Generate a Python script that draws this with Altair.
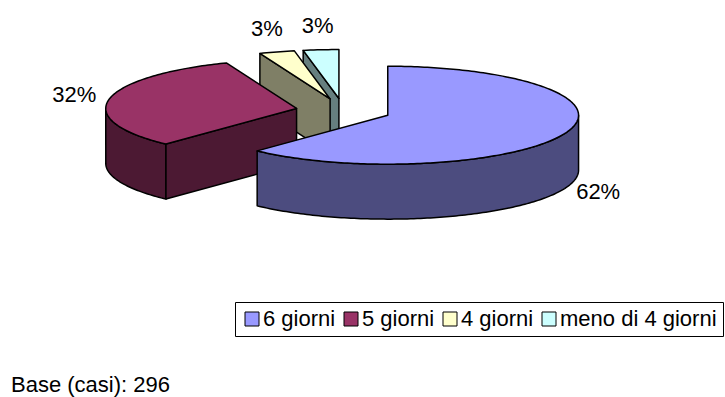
import altair as alt
import numpy as np
import pandas as pd

# Survey answers (share of cases, %)
categorie = ["6 giorni", "5 giorni", "4 giorni", "meno di 4 giorni"]
percentuali = [62, 32, 3, 3]
etichette = ["62%", "32%", "3%", "3%"]
base_casi = 296

# top-face colours; the sides use the same hues at half brightness
colori_sopra = ["#9999FF", "#993366", "#FFFFCC", "#CCFFFF"]

FONT = "Liberation Sans"
FONT_SIZE = 22

# 3D pie geometry, in plot units (horizontal radius of the disc = 1)
INCLINAZIONE = 0.2565   # vertical squash of the elliptical top face
SPESSORE = 0.288        # thickness of the disc
ESPLOSIONE = 0.25       # how far every slice is pulled away from the centre
RAGGIO_ETICHETTA_X = 1.436
RAGGIO_ETICHETTA_Y = 0.448


def scurisci(col, f=0.5):
    r, g, b = (int(col[i:i + 2], 16) for i in (1, 3, 5))
    return "#{:02x}{:02x}{:02x}".format(int(r * f), int(g * f), int(b * f))


def punto(ox, oz, theta, r=1.0, giu=0.0):
    """Screen position (x, y-up) of a point of the disc at angle theta
    (degrees clockwise from 12 o'clock) for a slice whose centre is shifted
    by (ox, oz) in the plane of the pie."""
    t = np.radians(theta)
    return ox + r * np.sin(t), INCLINAZIONE * (oz + r * np.cos(t)) - giu


def arco(ox, oz, a0, a1, giu=0.0):
    n = max(2, int(abs(a1 - a0)) + 1)
    return [punto(ox, oz, t, giu=giu) for t in np.linspace(a0, a1, n)]


angoli = np.concatenate([[0], np.cumsum(percentuali)]) / sum(percentuali) * 360

fette = []
for i, cat in enumerate(categorie):
    a0, a1 = angoli[i], angoli[i + 1]
    m = np.radians((a0 + a1) / 2)
    fette.append(dict(cat=cat, a0=a0, a1=a1, mid=m,
                      ox=ESPLOSIONE * np.sin(m), oz=ESPLOSIONE * np.cos(m),
                      col=colori_sopra[i], lab=etichette[i]))

# painter's order: slices further back are drawn first
ordine = sorted(fette, key=lambda f: -f["oz"])

facce = []  # (categoria, tipo, colore, punti)
for f in ordine:
    ox, oz, a0, a1 = f["ox"], f["oz"], f["a0"], f["a1"]
    lato = scurisci(f["col"])
    centro = punto(ox, oz, 0, r=0.0)
    centro_giu = punto(ox, oz, 0, r=0.0, giu=SPESSORE)
    # curved outer wall (only its front half is visible)
    b0, b1 = max(a0, 90), min(a1, 270)
    if b1 > b0:
        pts = arco(ox, oz, b0, b1) + arco(ox, oz, b1, b0, giu=SPESSORE)
        facce.append((f["cat"], "lato", lato, pts))
    # flat cut faces, when they face the viewer
    for ang, visibile in ((a0, np.sin(np.radians(a0)) < -1e-9),
                          (a1, np.sin(np.radians(a1)) > 1e-9)):
        if visibile:
            pts = [centro, punto(ox, oz, ang), punto(ox, oz, ang, giu=SPESSORE), centro_giu]
            facce.append((f["cat"], "lato", lato, pts))
    # top face
    facce.append((f["cat"], "sopra", f["col"], [centro] + arco(ox, oz, a0, a1)))

righe = []
for k, (cat, tipo, col, pts) in enumerate(facce):
    for j, (x, y) in enumerate(pts):
        righe.append(dict(faccia=k, i=j, x=float(x), y=float(y), categoria=cat))
df = pd.DataFrame(righe)

# percentage labels around the pie
lab_rows = []
for f in fette:
    c = np.cos(f["mid"])
    y = RAGGIO_ETICHETTA_Y * c - (0.9 * SPESSORE if c < 0 else 0.0)
    lab_rows.append(dict(x=RAGGIO_ETICHETTA_X * np.sin(f["mid"]), y=y, testo=f["lab"]))
df_lab = pd.DataFrame(lab_rows)

X = alt.X("x:Q", scale=alt.Scale(domain=[-1.8, 2.0], nice=False, zero=False), axis=None)
Y = alt.Y("y:Q", scale=alt.Scale(domain=[-1.5, 0.58], nice=False, zero=False), axis=None)

scala_colori = alt.Scale(domain=categorie, range=colori_sopra)
legenda = alt.Legend(
    title=None, orient="none", legendX=235, legendY=302, direction="horizontal",
    symbolType="square", symbolSize=196, symbolStrokeColor="black",
    symbolStrokeWidth=1, symbolOpacity=1,
    labelFont=FONT, labelFontSize=FONT_SIZE, labelColor="black", labelOffset=0,
    labelLimit=400, columnPadding=4, padding=6, strokeColor="black",
    cornerRadius=0,
)

livelli = []
for k, (cat, tipo, col, pts) in enumerate(facce):
    base = alt.Chart(df).transform_filter(alt.datum.faccia == k).mark_line(
        interpolate="linear-closed", stroke="black", strokeWidth=1.5, strokeJoin="round"
    )
    if tipo == "sopra":
        livelli.append(base.encode(
            x=X, y=Y, order="i:Q",
            fill=alt.Fill("categoria:N", scale=scala_colori, legend=legenda)))
    else:
        livelli.append(base.encode(x=X, y=Y, order="i:Q", fill=alt.value(col)))

testi = alt.Chart(df_lab).mark_text(
    font=FONT, fontSize=FONT_SIZE, color="black", align="center", baseline="middle"
).encode(x=X, y=Y, text="testo:N")

nota = alt.Chart(pd.DataFrame({"testo": [f"Base (casi): {base_casi}"]})).mark_text(
    font=FONT, fontSize=FONT_SIZE, color="black", align="left", baseline="alphabetic"
).encode(x=alt.value(11), y=alt.value(392), text="testo:N")

chart = alt.layer(*livelli, testi, nota).properties(
    width=725, height=397, padding=0, autosize="none"
).configure_view(stroke=None)

chart.save("out.html", embed_options={"renderer": "svg", "actions": False})
